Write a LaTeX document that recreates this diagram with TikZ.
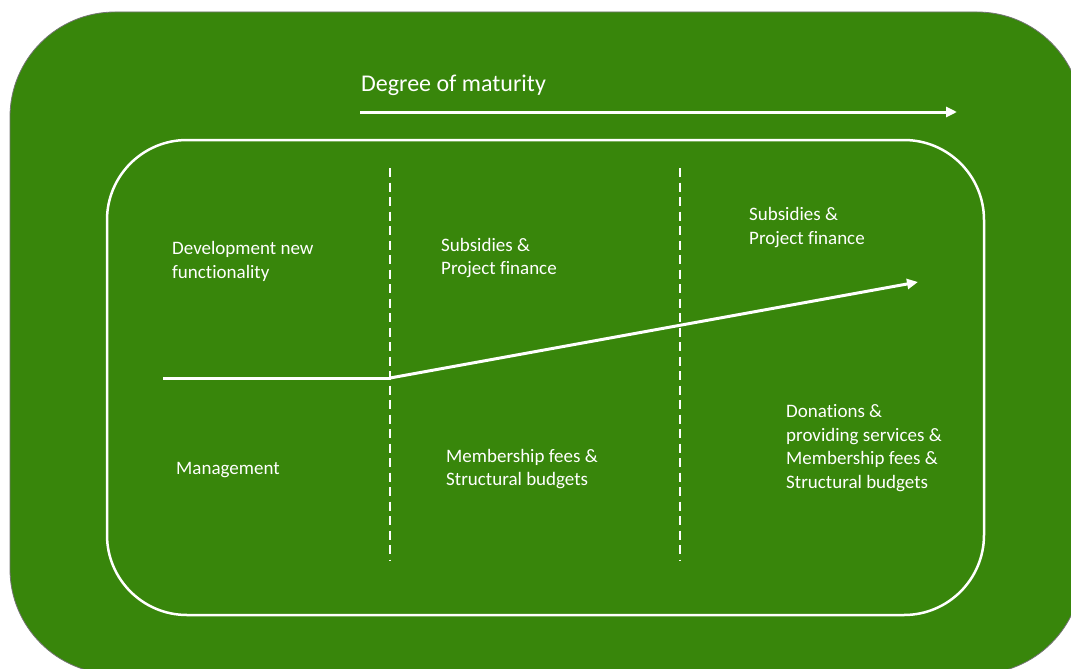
\documentclass[tikz,border=0pt]{standalone}
\usepackage{fontspec}
\setmainfont{Carlito}[Ligatures={NoCommon}]
\usetikzlibrary{arrows.meta,positioning}
\definecolor{matgreen}{RGB}{56,134,11}

\begin{document}
\begin{tikzpicture}[x=1pt, y=-1pt, >={Triangle[length=11pt,width=10pt]},
    lbl/.style={anchor=west, inner sep=0pt, align=left, text=white,
      font=\fontsize{19}{23.5}\selectfont},
    divider/.style={white, line width=2.2pt, dash pattern=on 9pt off 5.5pt},
    trend/.style={white, line width=3pt}]
  \useasboundingbox (0,0) rectangle (1071,669);
  \clip (0,0) rectangle (1071,669);

  % frames
  \draw[fill=matgreen, draw=black!55, line width=0.8pt, rounded corners=105pt]
    (10,12) rectangle (1082,674);
  \draw[white, line width=2.5pt, rounded corners=80pt] (107,140) rectangle (984,615);

  % maturity axis
  \node[lbl, font=\fontsize{24}{28}\selectfont] (title) at (361,85) {Degree of maturity};
  \coordinate (axisstart) at (360,112);
  \coordinate (axisend) at (957,112);
  \draw[trend, ->] (axisstart) -- (axisend);

  % phase dividers
  \coordinate (divAtop) at (390,168);
  \coordinate (divAbot) at (390,560);
  \coordinate (divBtop) at (680,168);
  \coordinate (divBbot) at (680,560);
  \draw[divider] (divAtop) -- (divAbot);
  \draw[divider] (divBtop) -- (divBbot);

  % growth line
  \coordinate (flatstart) at (163,378);
  \coordinate (kink) at (390,378);
  \coordinate (growthend) at (918,282);
  \draw[trend, line cap=butt] (flatstart) -- (kink);
  \draw[trend, ->] (kink) -- (growthend);

  % upper labels
  \node[lbl] (devnew) at (172,261.5) {Development new\\functionality};
  \node[lbl] (subsA) at (441,258) {Subsidies \&\\Project finance};
  \node[lbl] (subsB) at (749,227.5) {Subsidies \&\\Project finance};

  % lower labels
  \node[lbl] (mgmt) at (176,470) {Management};
  \node[lbl] (feesA) at (446,469) {Membership fees \&\\Structural budgets};
  \node[lbl] (feesB) at (786,448) {Donations \&\\providing services \&\\Membership fees \&\\Structural budgets};
\end{tikzpicture}
\end{document}
